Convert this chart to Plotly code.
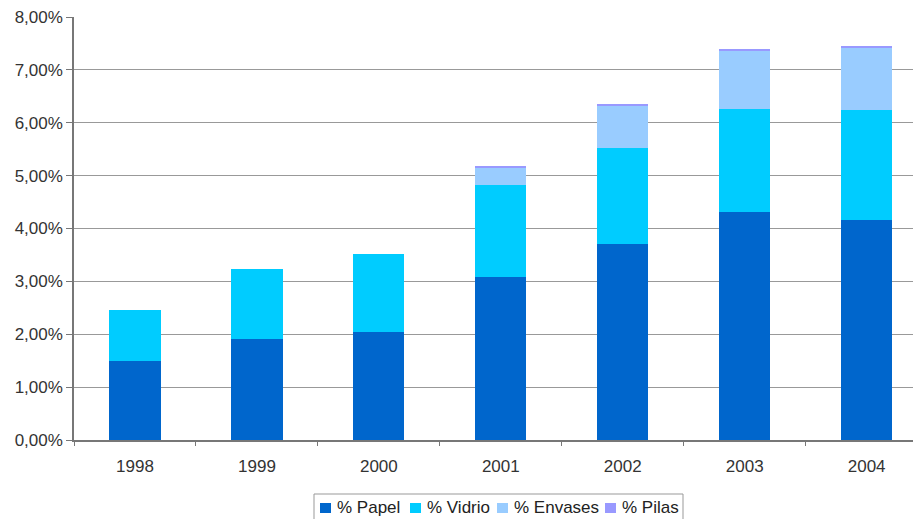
import plotly.graph_objects as go

years = ["1998", "1999", "2000", "2001", "2002", "2003", "2004"]
papel = [1.50, 1.91, 2.04, 3.08, 3.70, 4.32, 4.16]
vidrio = [0.96, 1.32, 1.47, 1.74, 1.83, 1.94, 2.08]
envases = [0.00, 0.00, 0.00, 0.34, 0.79, 1.11, 1.19]
pilas = [0.00, 0.00, 0.00, 0.01, 0.02, 0.02, 0.03]

series_names = ["% Papel", "% Vidrio", "% Envases", "% Pilas"]
series_colors = ["#0066CC", "#00CCFF", "#99CCFF", "#9999FF"]

y_tickvals = [0, 1, 2, 3, 4, 5, 6, 7, 8]
y_ticktext = ["0,00%", "1,00%", "2,00%", "3,00%", "4,00%", "5,00%", "6,00%", "7,00%", "8,00%"]

W, H = 913, 519
ML, MR, MT, MB = 74, 0, 17, 79
PW, PH = W - ML - MR, H - MT - MB


def px(x):
    return (x - ML) / PW


def py(y):
    return (H - MB - y) / PH


fig = go.Figure()
for name, vals, col in zip(series_names, [papel, vidrio, envases, pilas], series_colors):
    fig.add_trace(go.Bar(x=years, y=vals, name=name, marker_color=col,
                         marker_line_width=0, width=0.42, showlegend=False))

# custom legend (box, swatches, labels)
shapes = [dict(type="rect", xref="paper", yref="paper",
               x0=px(314), x1=px(683), y0=py(525), y1=py(494),
               line=dict(color="#999999", width=1), fillcolor="white")]
annotations = []
swatch_x = [320, 410, 497, 605]
for sx, name, col in zip(swatch_x, series_names, series_colors):
    shapes.append(dict(type="rect", xref="paper", yref="paper",
                       x0=px(sx), x1=px(sx + 11), y0=py(513), y1=py(503),
                       line=dict(width=0), fillcolor=col))
    annotations.append(dict(text=name, xref="paper", yref="paper",
                            x=px(sx + 15), y=py(507), xanchor="left", yanchor="middle",
                            showarrow=False, font=dict(size=17, color="#222222")))

fig.update_layout(
    barmode="stack",
    width=W, height=H,
    margin=dict(l=ML, r=MR, t=MT, b=MB, autoexpand=False),
    paper_bgcolor="white", plot_bgcolor="white",
    font=dict(family="Liberation Sans, Arial, sans-serif", size=17, color="#333333"),
    showlegend=False,
    shapes=shapes,
    annotations=annotations,
)
fig.update_xaxes(type="category", range=[-0.5, 6.38], showgrid=False,
                 showline=True, linecolor="#777777", linewidth=1.5,
                 ticks="outside", tickson="boundaries", ticklen=4, tickcolor="#777777",
                 ticklabelstandoff=10,
                 tickfont=dict(size=17, color="#333333"))
fig.update_yaxes(range=[0, 8], tickvals=y_tickvals, ticktext=y_ticktext,
                 showgrid=True, gridcolor="#999999", gridwidth=1,
                 showline=True, linecolor="#777777", linewidth=1.5,
                 ticks="outside", ticklen=6, tickcolor="#777777",
                 tickfont=dict(size=17, color="#333333"), zeroline=False)

fig.write_html("out.html")
